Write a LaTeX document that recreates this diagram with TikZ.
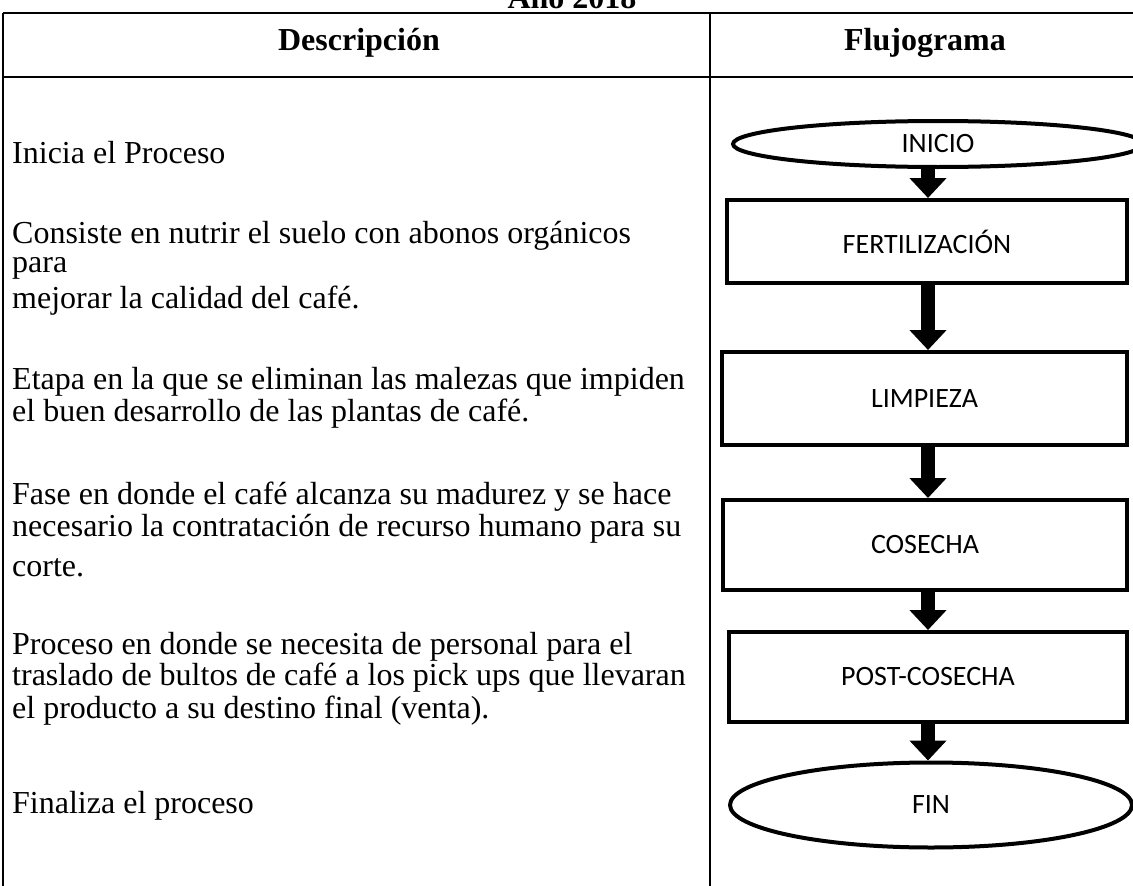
\documentclass[tikz,border=0pt]{standalone}
\usepackage{fontspec}
\setmainfont{Liberation Serif}
\newfontfamily\flowfont{Carlito}
\usetikzlibrary{shapes.geometric,arrows.meta}
\begin{document}
\begin{tikzpicture}[x=1pt,y=-1pt,
  desc/.style={anchor=base west, inner sep=0pt, font=\fontsize{32}{36}\selectfont},
  head/.style={anchor=base, inner sep=0pt, font=\bfseries\fontsize{32}{36}\selectfont},
  grid/.style={line width=1.6pt},
  stepbox/.style={draw, line width=4pt, rectangle, inner sep=0pt, font=\flowfont\fontsize{28}{32}\selectfont},
  term/.style={draw, line width=4pt, ellipse, inner sep=0pt, font=\flowfont\fontsize{28}{32}\selectfont},
  arr/.style={line width=14pt, -{Triangle[length=20pt,width=36pt]}}
]
\useasboundingbox (0,0) rectangle (1133,886);
% title (cut off at the top as in the source)
\node[head] (title) at (572,9) {Año 2018};
% table grid
\draw[grid] (3,13) -- (1140,13);
\draw[grid] (3,77) -- (1140,77);
\draw[grid] (3,13) -- (3,890);
\draw[grid] (710,13) -- (710,890);
% headers
\node[head] (h1) at (359,50) {Descripción};
\node[head] (h2) at (925,50) {Flujograma};
% descriptions
\node[desc] (d1) at (12,163) {Inicia el Proceso};
\node[desc] (d2a) at (12,243) {Consiste en nutrir el suelo con abonos orgánicos};
\node[desc] (d2b) at (12,272) {para};
\node[desc] (d2c) at (12,308) {mejorar la calidad del café.};
\node[desc] (d3a) at (12,389) {Etapa en la que se eliminan las malezas que impiden};
\node[desc] (d3b) at (12,421) {el buen desarrollo de las plantas de café.};
\node[desc] (d4a) at (12,504) {Fase en donde el café alcanza su madurez y se hace};
\node[desc] (d4b) at (12,536) {necesario la contratación de recurso humano para su};
\node[desc] (d4c) at (12,576) {corte.};
\node[desc] (d5a) at (12,654) {Proceso en donde se necesita de personal para el};
\node[desc] (d5b) at (12,685) {traslado de bultos de café a los pick ups que llevaran};
\node[desc] (d5c) at (12,718) {el producto a su destino final (venta).};
\node[desc] (d6) at (12,813) {Finaliza el proceso};
% flowchart
\node[term, minimum width=410pt, minimum height=46pt] (inicio) at (938,144) {INICIO};
\node[stepbox, minimum width=400pt, minimum height=83pt] (fert) at (927,241.5) {FERTILIZACIÓN};
\node[stepbox, minimum width=405pt, minimum height=93pt] (limp) at (924.5,398.5) {LIMPIEZA};
\node[stepbox, minimum width=404pt, minimum height=90pt] (cose) at (925,545) {COSECHA};
\node[stepbox, minimum width=398pt, minimum height=90pt] (post) at (928,677) {POST-COSECHA};
\node[term, minimum width=402pt, minimum height=85pt] (fin) at (931,805) {FIN};
\draw[arr] (928,0 |- inicio.south) -- (928,0 |- fert.north);
\draw[arr] (928,0 |- fert.south) -- (928,0 |- limp.north);
\draw[arr] (928,0 |- limp.south) -- (928,0 |- cose.north);
\draw[arr] (928,0 |- cose.south) -- (928,0 |- post.north);
\draw[arr] (928,0 |- post.south) -- (928,0 |- fin.north);
\end{tikzpicture}
\end{document}
